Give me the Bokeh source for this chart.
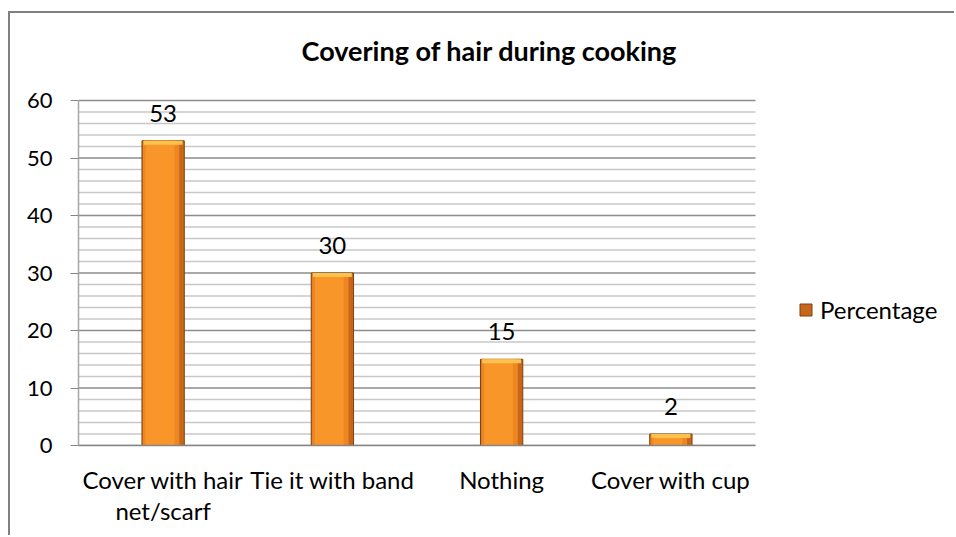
from bokeh.plotting import figure
from bokeh.models import (ColumnDataSource, Range1d, SingleIntervalTicker, FixedTicker,
                          LabelSet, Label, Legend, LegendItem)
from bokeh.core.properties import value
from bokeh.transform import dodge
from bokeh.embed import file_html
from bokeh.resources import INLINE

# Survey results: how respondents cover their hair while cooking
categories = ["Cover with hair\nnet/scarf", "Tie it with band", "Nothing", "Cover with cup"]
percentages = [53, 30, 15, 2]
series_name = "Percentage"
chart_title = "Covering of hair during cooking"
y_max = 60
major_step = 10
minor_step = 2

FONT = "Lato"

# page layout (pixels): chart area offset and the plot box inside it
OFF_X, OFF_Y = 10, 13
W, H = 956 - OFF_X, 537 - OFF_Y
PLOT_LEFT, PLOT_RIGHT, PLOT_TOP, PLOT_BOTTOM = 78, 755, 100, 445

# one slot per category on a numeric axis; the frame runs on past the last
# slot (legend room) and above the top gridline (title room)
n = len(categories)
xpos = [i + 0.5 for i in range(n)]
slot_px = (PLOT_RIGHT - PLOT_LEFT) / n
unit_px = (PLOT_BOTTOM - PLOT_TOP) / y_max
frame_w = 956 - PLOT_LEFT
frame_h = PLOT_BOTTOM - OFF_Y

src = ColumnDataSource(dict(
    x=xpos,
    val=percentages,
    label=[str(v) for v in percentages],
    bevel=[v - 0.7 for v in percentages],
))

p = figure(
    width=W, height=H,
    x_range=Range1d(0, frame_w / slot_px),
    y_range=Range1d(0, frame_h / unit_px),
    output_backend="svg", toolbar_location=None,
    min_border_left=PLOT_LEFT - OFF_X, min_border_right=0,
    min_border_top=0, min_border_bottom=537 - PLOT_BOTTOM,
    background_fill_color="white", border_fill_color="white",
)
p.outline_line_color = None
p.margin = (OFF_Y, 0, 0, OFF_X)
p.styles = {"box-shadow": "-2px -2px 0px 0px #808080"}

# gridlines: light every 2, darker every 10, across the category slots only
p.xgrid.grid_line_color = None
p.ygrid.grid_line_color = None
minor_y = [v for v in range(0, y_max + 1, minor_step) if v % major_step]
major_y = list(range(0, y_max + 1, major_step))
p.segment(x0=0, x1=n, y0=minor_y, y1=minor_y, line_color="#c8c8c8", line_width=1.5)
p.segment(x0=0, x1=n, y0=major_y, y1=major_y, line_color="#8c8c8c", line_width=1.5)

# axes
p.yaxis.ticker = SingleIntervalTicker(interval=major_step, num_minor_ticks=0)
p.yaxis.bounds = (0, y_max)
p.yaxis.major_tick_in = 0
p.yaxis.major_tick_out = 8
p.yaxis.minor_tick_line_color = None
p.yaxis.major_tick_line_color = "#868686"
p.yaxis.axis_line_color = "#a6a6a6"
p.yaxis.axis_line_width = 1.5
p.yaxis.major_label_standoff = 18
p.yaxis.major_label_text_font = FONT
p.yaxis.major_label_text_font_size = "22px"
p.yaxis.major_label_text_color = "black"

p.xaxis.ticker = FixedTicker(ticks=xpos)
p.xaxis.major_label_overrides = {x: c for x, c in zip(xpos, categories)}
p.xaxis.bounds = (0, n)
p.xaxis.major_tick_line_color = None
p.xaxis.minor_tick_line_color = None
p.xaxis.axis_line_color = "#868686"
p.xaxis.axis_line_width = 1.5
p.xaxis.major_label_standoff = 13
p.xaxis.major_label_text_font = FONT
p.xaxis.major_label_text_font_size = "24px"
p.xaxis.major_label_text_line_height = 1.1
p.xaxis.major_label_text_color = "black"

# bevelled orange bars: dark rim, lit face (darker toward the right), yellow top bevel
base = p.vbar(x="x", top="val", bottom=0, width=0.25, source=src,
              fill_color="#C8661A", line_color="#7E4010", line_width=1)
p.vbar(x=dodge("x", -0.012, range=p.x_range), top="val", bottom=0, width=0.215, source=src,
       fill_color="#EE8722", line_color=None)
p.vbar(x=dodge("x", -0.018, range=p.x_range), top="val", bottom=0, width=0.17, source=src,
       fill_color="#F8962A", line_color=None)
p.vbar(x="x", top="val", bottom="bevel", width=0.23, source=src,
       fill_color="#FCC24C", line_color=None)

# value labels above each bar
labels = LabelSet(x="x", y="val", text="label", source=src, y_offset=19,
                  text_align="center", text_baseline="alphabetic",
                  text_font=value(FONT), text_font_size=value("24px"), text_color="black")
p.add_layout(labels)

# chart title, centred over the chart area
title = Label(x=489 - PLOT_LEFT, y=PLOT_BOTTOM - 50, x_units="screen", y_units="screen",
              text=chart_title, text_align="center", text_baseline="middle",
              text_font=FONT, text_font_style="bold", text_font_size="27px",
              text_color="black")
p.add_layout(title)

legend = Legend(items=[LegendItem(label=series_name, renderers=[base])],
                location=(720, 121), orientation="vertical",
                glyph_width=15, glyph_height=15, label_standoff=7,
                padding=0, margin=0, spacing=0,
                border_line_color=None, background_fill_alpha=0,
                label_text_font=FONT, label_text_font_size="24px",
                label_text_color="black")
p.add_layout(legend)

open("out.html", "w").write(file_html(p, INLINE))
